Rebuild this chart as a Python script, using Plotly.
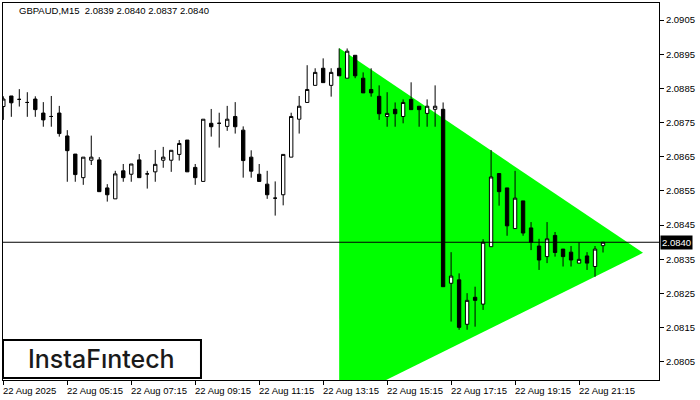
import plotly.graph_objects as go

# ---- data (GBPAUD M15, 22 Aug 2025, bars from 03:15, one bar per 15 min) ----
opens = [2.08797, 2.08828, 2.08818, 2.08809, 2.08819, 2.08778, 2.08768, 2.08778, 2.08711, 2.08658,
         2.08589, 2.08640, 2.08641, 2.08559, 2.08527, 2.08609, 2.08599, 2.08641, 2.08600, 2.08606,
         2.08640, 2.08640, 2.08657, 2.08699, 2.08619, 2.08578, 2.08748, 2.08748, 2.08739, 2.08768,
         2.08728, 2.08649, 2.08599, 2.08570, 2.08529, 2.08539, 2.08649, 2.08760, 2.08809, 2.08859,
         2.08909, 2.08859, 2.08909, 2.08880, 2.08947, 2.08880, 2.08847, 2.08827, 2.08768, 2.08789,
         2.08768, 2.08818, 2.08798, 2.08777, 2.08789, 2.08789, 2.08280, 2.08290, 2.08160, 2.08239,
         2.08219, 2.08387, 2.08601, 2.08559, 2.08440, 2.08521, 2.08442, 2.08389, 2.08358, 2.08420,
         2.08380, 2.08371, 2.08339, 2.08360, 2.08329, 2.08390]
highs = [2.08827, 2.08828, 2.08848, 2.08839, 2.08827, 2.08810, 2.08828, 2.08799, 2.08728, 2.08658,
         2.08649, 2.08712, 2.08649, 2.08570, 2.08609, 2.08629, 2.08629, 2.08658, 2.08609, 2.08670,
         2.08679, 2.08669, 2.08699, 2.08699, 2.08629, 2.08760, 2.08790, 2.08779, 2.08799, 2.08810,
         2.08739, 2.08669, 2.08629, 2.08609, 2.08578, 2.08657, 2.08779, 2.08828, 2.08918, 2.08909,
         2.08938, 2.08909, 2.08967, 2.08967, 2.08947, 2.08897, 2.08909, 2.08859, 2.08839, 2.08809,
         2.08818, 2.08868, 2.08798, 2.08818, 2.08859, 2.08809, 2.08371, 2.08309, 2.08251, 2.08270,
         2.08409, 2.08670, 2.08601, 2.08559, 2.08609, 2.08521, 2.08459, 2.08410, 2.08459, 2.08430,
         2.08380, 2.08389, 2.08400, 2.08371, 2.08389, 2.08400]
lows = [2.08758, 2.08767, 2.08797, 2.08767, 2.08767, 2.08738, 2.08738, 2.08709, 2.08577, 2.08577,
        2.08568, 2.08626, 2.08548, 2.08519, 2.08527, 2.08577, 2.08577, 2.08589, 2.08557, 2.08577,
        2.08618, 2.08606, 2.08639, 2.08606, 2.08568, 2.08578, 2.08709, 2.08677, 2.08726, 2.08718,
        2.08589, 2.08589, 2.08578, 2.08527, 2.08478, 2.08508, 2.08649, 2.08718, 2.08809, 2.08859,
        2.08867, 2.08826, 2.08887, 2.08880, 2.08880, 2.08837, 2.08826, 2.08758, 2.08738, 2.08738,
        2.08748, 2.08788, 2.08738, 2.08738, 2.08738, 2.08270, 2.08168, 2.08144, 2.08144, 2.08153,
        2.08202, 2.08387, 2.08507, 2.08419, 2.08440, 2.08419, 2.08377, 2.08319, 2.08339, 2.08358,
        2.08329, 2.08329, 2.08339, 2.08319, 2.08299, 2.08370]
closes = [2.08819, 2.08808, 2.08818, 2.08809, 2.08788, 2.08758, 2.08768, 2.08718, 2.08668, 2.08598,
          2.08649, 2.08649, 2.08548, 2.08539, 2.08600, 2.08589, 2.08629, 2.08589, 2.08600, 2.08628,
          2.08649, 2.08669, 2.08689, 2.08606, 2.08589, 2.08760, 2.08738, 2.08748, 2.08760, 2.08738,
          2.08639, 2.08608, 2.08578, 2.08539, 2.08529, 2.08657, 2.08768, 2.08798, 2.08847, 2.08897,
          2.08867, 2.08897, 2.08887, 2.08959, 2.08887, 2.08837, 2.08837, 2.08776, 2.08777, 2.08776,
          2.08809, 2.08788, 2.08788, 2.08798, 2.08798, 2.08270, 2.08301, 2.08151, 2.08230, 2.08230,
          2.08400, 2.08591, 2.08548, 2.08448, 2.08529, 2.08427, 2.08400, 2.08348, 2.08410, 2.08370,
          2.08358, 2.08348, 2.08350, 2.08339, 2.08380, 2.08400]

# symmetric triangle pattern: (bar index, price) of its corners
pattern_bars = [42, 42, 80]
pattern_prices = [2.08968, 2.07929, 2.08369]

last_price = 2.0840
y_ticks = [2.0805, 2.0815, 2.0825, 2.0835, 2.0845, 2.0855, 2.0865, 2.0875, 2.0885, 2.0895, 2.0905]
x_tick_bars = [0, 8, 16, 24, 32, 40, 48, 56, 64, 72]
x_tick_labels = ["22 Aug 2025", "22 Aug 05:15", "22 Aug 07:15", "22 Aug 09:15", "22 Aug 11:15",
                 "22 Aug 13:15", "22 Aug 15:15", "22 Aug 17:15", "22 Aug 19:15", "22 Aug 21:15"]
title_text = "GBPAUD,M15  2.0839 2.0840 2.0837 2.0840"
logo_text = "InstaF\u0131ntech"

x_range = [-0.04, 82.0]
y_range = [2.07997, 2.09100]

bars = list(range(len(opens)))
FONT = "Liberation Sans, Arial, sans-serif"

fig = go.Figure()
fig.add_trace(go.Candlestick(
    x=bars, open=opens, high=highs, low=lows, close=closes,
    increasing=dict(line=dict(color="black", width=1), fillcolor="white"),
    decreasing=dict(line=dict(color="black", width=1), fillcolor="black"),
    whiskerwidth=0, showlegend=False))

tri_path = "M{} {} L{} {} L{} {} Z".format(
    pattern_bars[0], pattern_prices[0], pattern_bars[1], pattern_prices[1],
    pattern_bars[2], pattern_prices[2])
fig.add_shape(type="path", path=tri_path, xref="x", yref="y",
              fillcolor="#00ff00", line=dict(width=0), layer="below")

fig.add_shape(type="line", xref="paper", x0=0, x1=1, yref="y", y0=last_price, y1=last_price,
              line=dict(color="black", width=1))

annotations = []
for b, lab in zip(x_tick_bars, x_tick_labels):
    annotations.append(dict(x=b, xref="x", y=0, yref="paper", yanchor="top", xanchor="left",
                            text=lab, showarrow=False, yshift=-3, xshift=-2,
                            font=dict(family=FONT, size=9.5, color="black")))
annotations.append(dict(x=0.022, xref="paper", y=0.979, yref="paper", xanchor="left", yanchor="middle",
                        text=title_text, showarrow=False,
                        font=dict(family=FONT, size=9.5, color="black")))
annotations.append(dict(x=1, xref="paper", y=last_price, yref="y", xanchor="left", yanchor="middle",
                        text=f"{last_price:.4f}", showarrow=False, bgcolor="black", borderpad=1,
                        xshift=1, font=dict(family=FONT, size=9.5, color="white")))
annotations.append(dict(x=0.1494, xref="paper", y=0.0557, yref="paper", xanchor="center", yanchor="middle",
                        text=logo_text, showarrow=False,
                        font=dict(family="Inter, Lato, sans-serif", size=25, weight=500, color="#1a1a1a")))

fig.add_shape(type="rect", xref="paper", yref="paper", x0=0, x1=0.3018, y0=0.0053, y1=0.1061,
              line=dict(color="black", width=2), fillcolor="white", layer="above")

fig.update_layout(
    width=700, height=400,
    margin=dict(l=3, r=41, t=3, b=20),
    paper_bgcolor="white", plot_bgcolor="white",
    boxgap=0.4,
    showlegend=False,
    annotations=annotations,
    hovermode=False,
)
fig.update_xaxes(range=x_range, rangeslider_visible=False,
                 showgrid=False, zeroline=False, showline=True, linecolor="black", linewidth=1,
                 mirror=True, ticks="outside", ticklen=4, tickcolor="black",
                 tickvals=x_tick_bars, showticklabels=False)
fig.update_yaxes(range=y_range, side="right", showgrid=False, zeroline=False,
                 showline=True, linecolor="black", linewidth=1, mirror=True,
                 ticks="outside", ticklen=4, tickcolor="black",
                 tickvals=y_ticks, ticktext=[f"{v:.4f}" for v in y_ticks],
                 tickfont=dict(family=FONT, size=9.5, color="black"))

fig.write_html("out.html", config={"displayModeBar": False},
               post_script="document.body.style.margin='0px';")
